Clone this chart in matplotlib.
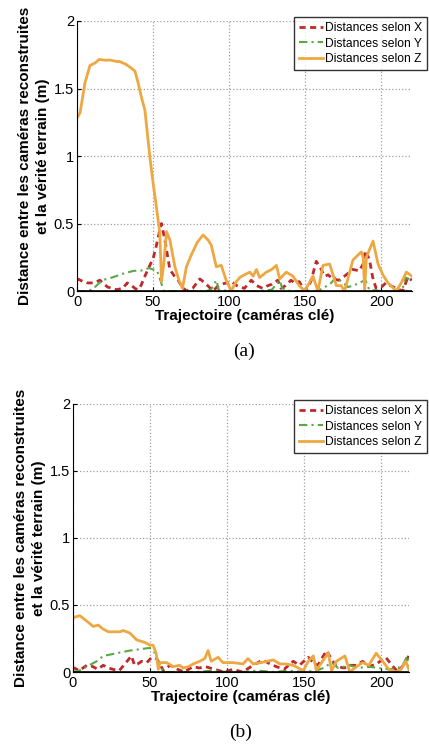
import matplotlib
matplotlib.use('Agg')
import matplotlib.pyplot as plt

plt.rcParams['font.family'] = ['Liberation Sans', 'DejaVu Sans']

YLABEL = 'Distance entre les caméras reconstruites\net la vérité terrain (m)'
XLABEL = 'Trajectoire (caméras clé)'
LEGEND = ['Distances selon X', 'Distances selon Y', 'Distances selon Z']
XTICKS = [0, 50, 100, 150, 200]
YTICKS = [0, 0.5, 1, 1.5, 2]
YTICKLABELS = ['0', '0.5', '1', '1.5', '2']

# (a) values
a_x_pos = [0, 1, 4, 7, 11, 15, 18, 20, 23, 26, 30, 33, 36, 38, 40, 42, 44.6, 47, 50, 52, 54.4, 55.5,
           57.7, 61, 64, 66.5, 69, 72, 76, 80.7, 85, 89.4, 92, 94.9, 98, 101.4, 105, 110, 114.5, 118,
           122, 125.4, 128, 131.9, 134, 137, 140.6, 143, 146, 149.6, 152, 153.9, 157.2, 160, 162.6,
           165, 168, 172, 175.7, 178, 181.1, 185.5, 188, 189.5, 192.2, 194.3, 196.5, 200, 203, 206,
           209.6, 214, 217.3, 220]
a_x_val = [0.08, 0.087, 0.07, 0.06, 0.06, 0.08, 0.05, 0.03, 0.02, 0.01, 0.02, 0.06, 0.04, 0.02, 0.01,
           0.04, 0.11, 0.17, 0.24, 0.33, 0.45, 0.5, 0.38, 0.16, 0.11, 0.08, 0.03, 0.0, 0.02, 0.09,
           0.05, 0.0, 0.03, 0.05, 0.06, 0.07, 0.04, 0.02, 0.08, 0.04, 0.02, 0.04, 0.05, 0.08, 0.02,
           0.04, 0.08, 0.06, 0.07, 0.0, 0.03, 0.08, 0.22, 0.17, 0.11, 0.12, 0.09, 0.08, 0.11, 0.13,
           0.16, 0.15, 0.2, 0.3, 0.23, 0.1, 0.02, 0.03, 0.06, 0.04, 0.02, 0.0, 0.1, 0.08]

a_y_pos = [0, 5, 10, 16.5, 23, 30.8, 37.4, 41.7, 47.2, 52.6, 54.8, 57, 65, 75, 85, 88, 90, 91.6,
           93, 100, 110, 120, 128, 131, 133, 135, 140, 150, 158, 163, 167, 170, 174, 178, 182,
           185, 189.5, 192, 200, 210, 214, 216, 218, 220]
a_y_val = [0.0, 0.0, 0.01, 0.08, 0.1, 0.13, 0.15, 0.15, 0.17, 0.15, 0.08, 0.0, 0.0, 0.0, 0.0, 0.01,
           0.05, 0.08, 0.01, 0.0, 0.0, 0.0, 0.01, 0.05, 0.08, 0.02, 0.0, 0.0, 0.0, 0.03, 0.06,
           0.1, 0.07, 0.03, 0.04, 0.06, 0.08, 0.01, 0.0, 0.0, 0.02, 0.1, 0.09, 0.08]

a_z_pos = [0, 2, 5.2, 8.5, 12, 14.6, 18, 22, 26, 28, 32, 35.8, 38, 40, 42, 44.6, 47.9, 50, 52.2,
           54.4, 55.5, 57, 58.8, 61, 64.3, 67, 69.3, 71.9, 75.2, 79, 82.8, 86, 88.2, 91.5, 94.8,
           98, 101.4, 104, 106.9, 110, 113.5, 115.7, 117.9, 120, 124.4, 128, 131, 133.2, 137.5,
           141.9, 146, 149.6, 155, 158.3, 161.6, 166, 170.4, 173.6, 175.8, 181.3, 186.8, 188,
           189, 190.1, 194.5, 197.8, 201, 204.3, 209.8, 213, 216.4, 220]
a_z_val = [1.28, 1.32, 1.54, 1.67, 1.69, 1.716, 1.71, 1.71, 1.7, 1.7, 1.68, 1.65, 1.63, 1.55, 1.45,
           1.34, 0.99, 0.8, 0.62, 0.43, 0.07, 0.2, 0.44, 0.38, 0.18, 0.08, 0.02, 0.18, 0.27, 0.36,
           0.415, 0.38, 0.34, 0.18, 0.19, 0.08, 0.0, 0.06, 0.1, 0.12, 0.14, 0.11, 0.16, 0.1, 0.14,
           0.16, 0.19, 0.09, 0.14, 0.11, 0.04, 0.0, 0.11, 0.0, 0.19, 0.2, 0.04, 0.04, 0.0, 0.23,
           0.29, 0.25, 0.01, 0.25, 0.37, 0.2, 0.12, 0.06, 0.0, 0.06, 0.14, 0.11]

# (b) values
b_x_pos = [0, 1, 4, 9, 13, 16, 19.7, 23, 26, 30, 33.7, 38, 40, 42, 44.6, 47.9, 51.2, 54.4, 58.7,
           63, 68, 72, 78, 82, 86, 92, 98, 104, 110, 117, 123, 128, 132, 137, 143, 147, 152.7, 156,
           159, 162.5, 164.7, 167.5, 171, 176, 180, 184, 188, 192, 197, 203, 207, 211, 215, 218]
b_x_val = [0.02, 0.03, 0.01, 0.05, 0.04, 0.02, 0.05, 0.03, 0.02, 0.01, 0.06, 0.12, 0.05, 0.06,
           0.08, 0.07, 0.11, 0.1, 0.01, 0.05, 0.02, 0.0, 0.04, 0.03, 0.04, 0.02, 0.0, 0.02, 0.0,
           0.05, 0.09, 0.06, 0.04, 0.02, 0.08, 0.05, 0.11, 0.07, 0.05, 0.12, 0.16, 0.1, 0.04, 0.03,
           0.05, 0.05, 0.08, 0.04, 0.06, 0.11, 0.05, 0.0, 0.06, 0.12]

b_y_pos = [0, 4, 9, 15.4, 19.7, 28.4, 37, 43.5, 50, 53.3, 56.5, 59, 70, 80, 90, 100, 110, 120,
           130, 140, 150, 158, 162.5, 167.9, 172, 179.7, 185, 192, 198, 205, 211, 214, 217, 218]
b_y_val = [0.0, 0.01, 0.04, 0.08, 0.12, 0.14, 0.16, 0.17, 0.18, 0.14, 0.04, 0.0, 0.0, 0.0, 0.01,
           0.0, 0.0, 0.01, 0.0, 0.01, 0.0, 0.01, 0.03, 0.07, 0.03, 0.05, 0.03, 0.04, 0.03, 0.02,
           0.03, 0.05, 0.12, 0.04]

b_z_pos = [0, 1.3, 4.5, 7.8, 10, 13.2, 16.5, 19.7, 23, 26.2, 30.5, 32.7, 34.8, 37, 41.3, 46.8, 50,
           52, 54, 55.4, 56.5, 60.8, 65, 69.3, 71.5, 75, 78, 82.3, 85.5, 87.7, 89.8, 94.2, 97.4,
           103.9, 110.4, 113.6, 117, 122, 126, 130, 134.3, 138, 143, 149.5, 152.7, 156, 158, 162.5,
           165.7, 167.9, 171, 176.5, 179.7, 184, 188, 192, 196.8, 201, 205, 209.6, 213, 216, 218]
b_z_val = [0.4, 0.41, 0.42, 0.39, 0.37, 0.34, 0.35, 0.32, 0.3, 0.3, 0.3, 0.31, 0.3, 0.29, 0.24,
           0.22, 0.2, 0.2, 0.14, 0.02, 0.07, 0.07, 0.04, 0.05, 0.03, 0.04, 0.06, 0.08, 0.1, 0.16,
           0.08, 0.11, 0.07, 0.07, 0.06, 0.1, 0.06, 0.07, 0.08, 0.09, 0.06, 0.06, 0.05, 0.01, 0.08,
           0.12, 0.01, 0.09, 0.14, 0.01, 0.08, 0.12, 0.0, 0.04, 0.07, 0.05, 0.14, 0.08, 0.02, 0.0,
           0.02, 0.08, 0.02]

RED = '#c0282a'
GREEN = '#5aa845'
ORANGE = '#eea843'

fig = plt.figure(figsize=(4.29, 7.47), dpi=100)
ax_a = fig.add_axes([0.1795, 0.6104, 0.7805, 0.3615])
ax_b = fig.add_axes([0.170, 0.1004, 0.783, 0.3588])


def draw(ax, xs, ys, zs, xmax, caption, leg_x):
    ax.plot(xs[0], xs[1], color=RED, linestyle=(0, (2.2, 1.6)), linewidth=2.0, label=LEGEND[0])
    ax.plot(ys[0], ys[1], color=GREEN, linestyle=(0, (4, 2, 1, 2)), linewidth=1.5, label=LEGEND[1])
    ax.plot(zs[0], zs[1], color=ORANGE, linestyle='-', linewidth=2.0, label=LEGEND[2])
    ax.set_xlim(0, xmax)
    ax.set_ylim(0, 2)
    ax.set_xticks(XTICKS)
    ax.set_yticks(YTICKS)
    ax.set_yticklabels(YTICKLABELS)
    ax.tick_params(direction='in', length=3, labelsize=10.5)
    ax.tick_params(axis='x', pad=3)
    ax.tick_params(axis='y', pad=2)
    ax.grid(True, linestyle=':', color='#a0a0a0', linewidth=0.9)
    ax.spines['top'].set_visible(False)
    ax.spines['right'].set_visible(False)
    ax.axhline(0, color='black', linewidth=1.2, zorder=5)
    ax.set_xlabel(XLABEL, fontsize=11, fontweight='bold', labelpad=0)
    ax.set_ylabel(YLABEL, fontsize=11, fontweight='bold', labelpad=3, linespacing=1.35)
    leg = ax.legend(loc='upper right', fontsize=8.7, frameon=True, fancybox=False,
                    borderpad=0.4, labelspacing=0.3, handlelength=2.0, handletextpad=0.2,
                    borderaxespad=0.0, bbox_to_anchor=(leg_x, 1.014))
    leg.get_frame().set_edgecolor('black')
    leg.get_frame().set_linewidth(1.0)
    ax.text(0.5, -0.225, caption, transform=ax.transAxes, ha='center', va='center',
            fontsize=14, family='Liberation Serif')


draw(ax_a, (a_x_pos, a_x_val), (a_y_pos, a_y_val), (a_z_pos, a_z_val), 220, '(a)', 1.046)
draw(ax_b, (b_x_pos, b_x_val), (b_y_pos, b_y_val), (b_z_pos, b_z_val), 218, '(b)', 1.055)

fig.savefig('out.png', dpi=100)
